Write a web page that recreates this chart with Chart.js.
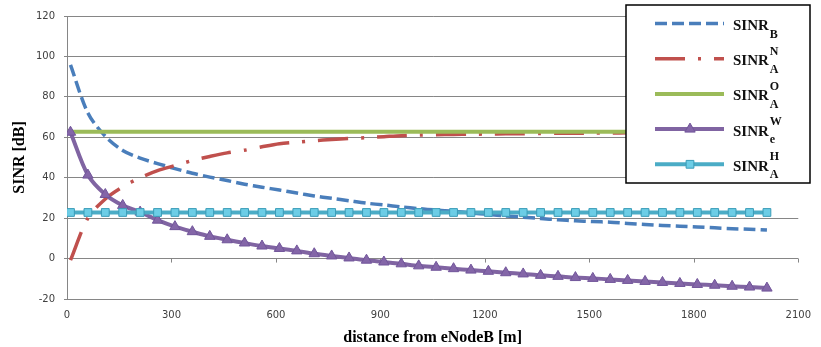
<!DOCTYPE html>
<html>
<head>
<meta charset="utf-8">
<script src="https://cdn.jsdelivr.net/npm/chart.js@4.4.1/dist/chart.umd.min.js"></script>
<style>
	html, body { margin: 0; padding: 0; background: #fff; }
	#wrap { width: 821px; height: 347px; position: relative; }
</style>
</head>
<body>
<div id="wrap"><canvas id="chartjs-canvas" width="821" height="347"></canvas></div>
<script>
// distance from eNodeB [m]
const distances = [10, 60, 110, 160, 210, 260, 310, 360, 410, 460, 510, 560, 610, 660, 710, 760, 810, 860, 910, 960,
	1010, 1060, 1110, 1160, 1210, 1260, 1310, 1360, 1410, 1460, 1510, 1560, 1610, 1660, 1710, 1760, 1810, 1860, 1910, 1960, 2010];

const sinrB = [95.8, 72, 60.5, 53.5, 49.7, 47, 44.5, 42.2, 40.3, 38.6, 36.8, 35.3, 33.9, 32.4, 31, 29.8, 28.6, 27.4, 26.5, 25.6,
	24.7, 24, 23.4, 22.6, 21.8, 21.1, 20.5, 19.8, 19.2, 18.7, 18.3, 18, 17.4, 16.9, 16.4, 16, 15.6, 15.2, 14.8, 14.5, 14.1];
const sinrNA = [-0.8, 20, 29.5, 35.5, 40, 43.5, 46, 48.5, 50.5, 52.3, 53.6, 55.3, 56.8, 57.6, 58.3, 58.9, 59.4, 59.8, 60.3, 60.8,
	61.1, 61.3, 61.4, 61.5, 61.6, 61.7, 61.8, 61.9, 62, 62, 62.1, 62.1, 62.2, 62.2, 62.2, 62.3, 62.3, 62.3, 62.3, 62.4, 62.4];
const sinrOA = [62.7, 62.7, 62.7, 62.7, 62.7, 62.7, 62.7, 62.7, 62.7, 62.7, 62.7, 62.7, 62.7, 62.7, 62.7, 62.7, 62.7, 62.7, 62.7, 62.7,
	62.7, 62.7, 62.7, 62.7, 62.7, 62.7, 62.7, 62.7, 62.7, 62.7, 62.7, 62.7, 62.7, 62.7, 62.7, 62.7, 62.7, 62.7, 62.7, 62.7, 62.7];
const sinrWe = [62.5, 41.3, 31.7, 26.3, 23, 19, 15.8, 13.3, 11, 9.3, 7.7, 6.2, 5, 3.8, 2.4, 1.3, 0.3, -0.8, -1.7, -2.6,
	-3.6, -4.3, -5, -5.7, -6.3, -7, -7.6, -8.3, -8.8, -9.4, -9.8, -10.3, -10.8, -11.3, -11.8, -12.3, -12.8, -13.2, -13.7, -14.1, -14.6];
const sinrHA = [22.8, 22.8, 22.8, 22.8, 22.8, 22.8, 22.8, 22.8, 22.8, 22.8, 22.8, 22.8, 22.8, 22.8, 22.8, 22.8, 22.8, 22.8, 22.8, 22.8,
	22.8, 22.8, 22.8, 22.8, 22.8, 22.8, 22.8, 22.8, 22.8, 22.8, 22.8, 22.8, 22.8, 22.8, 22.8, 22.8, 22.8, 22.8, 22.8, 22.8, 22.8];

const xTicks = [0, 300, 600, 900, 1200, 1500, 1800, 2100];
const yTicks = [-20, 0, 20, 40, 60, 80, 100, 120];

// legend labels: base, superscript, subscript
const legendBase = ['SINR', 'SINR', 'SINR', 'SINR', 'SINR'];
const legendSup = ['', 'N', 'O', 'W', 'H'];
const legendSub = ['B', 'A', 'A', 'e', 'A'];

const toPoints = vals => vals.map((v, i) => ({x: distances[i], y: v}));

const tickFont = {family: 'DejaVu Sans, sans-serif', size: 10};
const titleFont = {family: 'Liberation Serif, Times New Roman, serif', size: 16, weight: 'bold'};
const serif = '"Liberation Serif", "Times New Roman", serif';

const datasets = [
	{
		data: toPoints(sinrB),
		borderColor: '#4a7ebb',
		borderWidth: 3.5,
		borderDash: [12, 5],
		pointRadius: 0,
		order: 5
	},
	{
		data: toPoints(sinrNA),
		borderColor: '#c0504d',
		borderWidth: 3.5,
		borderDash: [30, 13, 3, 13],
		pointRadius: 0,
		order: 4
	},
	{
		data: toPoints(sinrOA),
		borderColor: '#9bbb59',
		borderWidth: 4,
		pointRadius: 0,
		order: 3
	},
	{
		data: toPoints(sinrWe),
		borderColor: '#8064a2',
		borderWidth: 4,
		pointStyle: 'triangle',
		pointRadius: 6,
		pointBackgroundColor: '#8466a8',
		pointBorderColor: '#71559a',
		pointBorderWidth: 1,
		order: 2
	},
	{
		data: toPoints(sinrHA),
		borderColor: '#4bacc6',
		borderWidth: 4,
		pointStyle: 'rect',
		pointRadius: 5.5,
		pointBackgroundColor: '#6ccde6',
		pointBorderColor: '#3b9cb8',
		pointBorderWidth: 1,
		order: 1
	}
];

// small tick marks hanging from the 0 line (horizontal axis crosses there)
const zeroTicks = {
	id: 'zeroTicks',
	beforeDatasetsDraw(chart) {
		const {ctx, scales: {x, y}} = chart;
		const y0 = y.getPixelForValue(0);
		ctx.save();
		ctx.strokeStyle = '#868686';
		ctx.lineWidth = 1;
		xTicks.forEach(t => {
			const px = Math.round(x.getPixelForValue(t)) + 0.5;
			ctx.beginPath();
			ctx.moveTo(px, y0);
			ctx.lineTo(px, y0 + 4);
			ctx.stroke();
		});
		ctx.restore();
	}
};

const legendBox = {
	id: 'legendBox',
	afterDraw(chart) {
		const {ctx} = chart;
		const left = 626, top = 5, w = 184, h = 178;
		ctx.save();
		ctx.fillStyle = '#fff';
		ctx.fillRect(left, top, w, h);
		ctx.strokeStyle = '#000';
		ctx.lineWidth = 1.5;
		ctx.strokeRect(left, top, w, h);
		chart.data.datasets.forEach((ds, i) => {
			const rowY = 23.5 + i * 35.2;
			ctx.save();
			ctx.strokeStyle = ds.borderColor;
			ctx.lineWidth = ds.borderWidth;
			ctx.setLineDash(ds.borderDash || []);
			ctx.beginPath();
			ctx.moveTo(655, rowY);
			ctx.lineTo(724, rowY);
			ctx.stroke();
			ctx.restore();
			if (ds.pointRadius > 0) {
				ctx.save();
				ctx.fillStyle = ds.pointBackgroundColor;
				ctx.strokeStyle = ds.pointBorderColor;
				ctx.lineWidth = 1;
				const r = ds.pointRadius;
				ctx.beginPath();
				if (ds.pointStyle === 'triangle') {
					ctx.moveTo(690, rowY - r);
					ctx.lineTo(690 + r * 0.866, rowY + r / 2);
					ctx.lineTo(690 - r * 0.866, rowY + r / 2);
					ctx.closePath();
				} else {
					const s = r * Math.SQRT1_2;
					ctx.rect(690 - s, rowY - s, 2 * s, 2 * s);
				}
				ctx.fill();
				ctx.stroke();
				ctx.restore();
			}
			ctx.fillStyle = '#111';
			ctx.textBaseline = 'alphabetic';
			ctx.textAlign = 'left';
			ctx.font = 'bold 15px ' + serif;
			ctx.fillText(legendBase[i], 733, rowY + 6.5);
			const bw = ctx.measureText(legendBase[i]).width;
			ctx.font = 'bold 12px ' + serif;
			if (legendSup[i]) ctx.fillText(legendSup[i], 733 + bw + 1, rowY - 4);
			if (legendSub[i]) ctx.fillText(legendSub[i], 733 + bw + 1, rowY + 14);
		});
		ctx.restore();
	}
};

new Chart(document.getElementById('chartjs-canvas'), {
	type: 'line',
	data: {datasets},
	options: {
		responsive: false,
		animation: false,
		layout: {padding: {top: 16, right: 0, left: 0, bottom: 0}},
		plugins: {
			legend: {display: false},
			tooltip: {enabled: false}
		},
		elements: {line: {tension: 0.3, borderCapStyle: 'butt'}},
		scales: {
			x: {
				type: 'linear',
				min: 0,
				max: 2100,
				afterBuildTicks: axis => { axis.ticks = xTicks.map(v => ({value: v})); },
				afterFit: axis => { axis.height = 48; },
				grid: {display: false, drawTicks: false},
				border: {display: false},
				ticks: {color: '#404040', font: tickFont, padding: 10, maxRotation: 0, callback: v => String(v)},
				title: {display: true, text: 'distance from eNodeB [m]', color: '#000', font: titleFont, padding: {top: 4, bottom: 0}}
			},
			y: {
				min: -20,
				max: 120,
				afterBuildTicks: axis => { axis.ticks = yTicks.map(v => ({value: v})); },
				afterFit: axis => { axis.width = 67; },
				grid: {color: '#868686', lineWidth: 1, tickLength: 3},
				border: {display: true, color: '#868686', width: 1},
				ticks: {color: '#404040', font: tickFont, padding: 9, callback: v => String(v)},
				title: {display: true, text: 'SINR [dB]', color: '#000', font: titleFont, padding: {top: 10, bottom: 0}}
			}
		}
	},
	plugins: [zeroTicks, legendBox]
});
</script>
</body>
</html>
